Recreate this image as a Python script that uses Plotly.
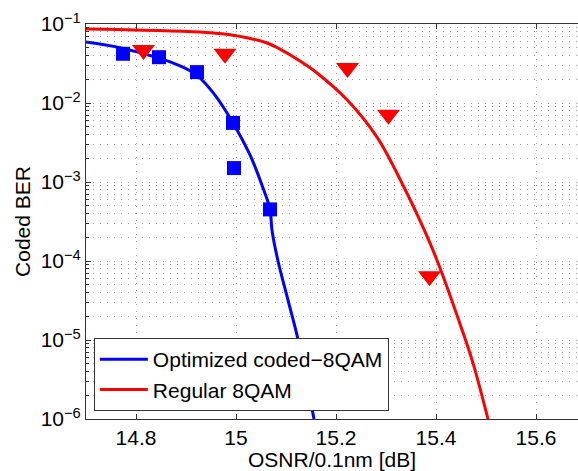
import plotly.graph_objects as go

# Fitted curves (OSNR in dB, coded BER)
opt_curve_x = [14.70, 14.768, 14.846, 14.888, 14.922, 14.958, 14.994, 15.028, 15.052, 15.068, 15.072, 15.084, 15.104, 15.124, 15.156]
opt_curve_y = [5.9e-2, 5.0e-2, 3.7e-2, 2.95e-2, 2.24e-2, 1.26e-2, 5.6e-3, 2.2e-3, 9.1e-4, 4.5e-4, 2.45e-4, 1.0e-4, 3.2e-5, 1.02e-5, 1.0e-6]

reg_curve_x = [14.70, 14.928, 14.994, 15.062, 15.088, 15.128, 15.162, 15.222, 15.282, 15.334, 15.378, 15.402, 15.452, 15.474, 15.504]
reg_curve_y = [8.65e-2, 7.9e-2, 7.2e-2, 5.75e-2, 4.8e-2, 3.4e-2, 2.4e-2, 1.1e-2, 3.7e-3, 9.1e-4, 2.35e-4, 1.02e-4, 1.35e-5, 5.1e-6, 1.0e-6]

# Measured points
opt_meas_x = [14.774, 14.846, 14.922, 14.994, 14.996, 15.068]
opt_meas_y = [4.2e-2, 3.8e-2, 2.46e-2, 5.6e-3, 1.5e-3, 4.5e-4]

reg_meas_x = [14.815, 14.978, 15.223, 15.305, 15.387]
reg_meas_y = [4.7e-2, 4.2e-2, 2.77e-2, 7.1e-3, 6.4e-5]

y_tickvals = [1e-6, 1e-5, 1e-4, 1e-3, 1e-2, 1e-1]
y_ticktext = ["10<sup>\u22126</sup>", "10<sup>\u22125</sup>", "10<sup>\u22124</sup>",
              "10<sup>\u22123</sup>", "10<sup>\u22122</sup>", "10<sup>\u22121</sup>"]
x_tickvals = [14.8, 15.0, 15.2, 15.4, 15.6]
x_ticktext = ["14.8", "15", "15.2", "15.4", "15.6"]

BLUE = "#0000ff"
RED = "#ff0000"
FONT = "Liberation Sans, Arial, Helvetica, sans-serif"
FS = 21

fig = go.Figure()
fig.add_trace(go.Scatter(x=opt_curve_x, y=opt_curve_y, mode="lines", line=dict(color=BLUE, width=3, shape="spline"),
                         name="Optimized coded\u22128QAM"))
fig.add_trace(go.Scatter(x=reg_curve_x, y=reg_curve_y, mode="lines", line=dict(color=RED, width=3, shape="spline"),
                         name="Regular 8QAM"))
fig.add_trace(go.Scatter(x=opt_meas_x, y=opt_meas_y, mode="markers", showlegend=False,
                         marker=dict(symbol="square", size=14, color=BLUE, line=dict(width=0))))
fig.add_trace(go.Scatter(x=reg_meas_x, y=reg_meas_y, mode="markers", showlegend=False,
                         marker=dict(symbol="triangle-down", size=20, color=RED, line=dict(width=0))))

minor_y = [m * 10.0 ** e for e in range(-6, -1) for m in range(2, 10)]
GRID = "#a0a0a0"
DASH = "1px,6px"

fig.update_layout(
    width=578, height=471,
    margin=dict(l=86, r=0, t=24, b=52),
    paper_bgcolor="white", plot_bgcolor="white",
    font=dict(family=FONT, size=FS, color="black"),
    showlegend=True,
    legend=dict(x=0.016, y=0.02, xanchor="left", yanchor="bottom",
                bgcolor="white", bordercolor="#333333", borderwidth=1,
                font=dict(size=FS), tracegroupgap=0, itemwidth=48),
    xaxis=dict(range=[14.7, 15.684], tickvals=x_tickvals, ticktext=x_ticktext,
               showline=True, linecolor="#333333", linewidth=1, mirror="ticks",
               ticks="inside", ticklen=5, tickcolor="#333333",
               showgrid=True, gridcolor=GRID, griddash=DASH, gridwidth=1,
               zeroline=False,
               title=dict(text="OSNR/0.1nm [dB]", font=dict(size=FS), standoff=7),
               tickfont=dict(size=FS)),
    yaxis=dict(type="log", range=[-6, -1], tickvals=y_tickvals, ticktext=y_ticktext,
               showline=True, linecolor="#333333", linewidth=1, mirror=False,
               ticks="inside", ticklen=5, tickcolor="#333333",
               showgrid=True, gridcolor=GRID, griddash=DASH, gridwidth=1,
               zeroline=False,
               minor=dict(tickvals=minor_y, ticks="inside", ticklen=3, tickcolor="#333333",
                          showgrid=True, gridcolor=GRID, griddash=DASH, gridwidth=1),
               title=dict(text="Coded BER", font=dict(size=FS), standoff=4),
               tickfont=dict(size=FS)),
)

fig.write_html("out.html")
